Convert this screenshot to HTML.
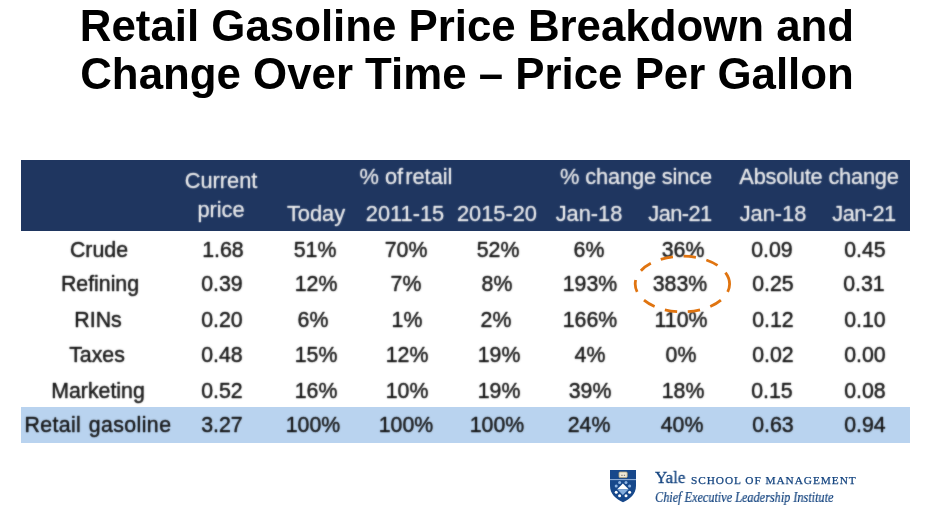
<!DOCTYPE html>
<html>
<head>
<meta charset="utf-8">
<title>Retail Gasoline Price Breakdown</title>
<style>
html,body{margin:0;padding:0;background:#fff;}
body{width:930px;height:523px;position:relative;overflow:hidden;font-family:"Liberation Sans",sans-serif;}
.title{position:absolute;left:0;top:0;width:930px;text-align:center;font-weight:bold;font-size:43.82px;line-height:47px;color:#000;white-space:nowrap;}
.title div{position:absolute;left:1.8px;width:930px;will-change:transform;}
.hdr{position:absolute;left:21px;top:159.7px;width:889px;height:71px;background:#1f3660;}
.hl{position:absolute;left:21px;top:406.7px;width:889px;height:36px;background:#b9d3ef;}
.t{position:absolute;width:200px;margin-left:-100px;text-align:center;font-size:21.3px;line-height:24px;height:24px;white-space:nowrap;will-change:transform;color:rgba(17,17,17,0.35);-webkit-text-stroke:0.45px rgba(17,17,17,0.35);text-shadow:0 0 1.7px #111;transform:scaleY(1.05);}
.h{font-size:21.8px;color:rgba(246,246,246,0.35);-webkit-text-stroke:0.3px rgba(246,246,246,0.3);text-shadow:0 0 1.7px #f0f0f0;}
.logo{position:absolute;will-change:transform;color:#13437f;font-family:"Liberation Serif",serif;white-space:nowrap;}
</style>
</head>
<body>
<div class="title"><div style="top:2px">Retail Gasoline Price Breakdown and</div><div style="top:49px;transform:translateY(0.6px)">Change Over Time – Price Per Gallon</div></div>
<div class="hdr"></div>
<div class="hl"></div>

<!-- header text -->
<div class="t h" style="left:221px;top:169px">Current</div>
<div class="t h" style="left:221px;top:197.6px">price</div>
<div class="t h" style="left:405.5px;top:165px">% of<span style="margin-left:-4px"> retail</span></div>
<div class="t h" style="left:635.6px;top:165px;letter-spacing:-0.14px">% change since</div>
<div class="t h" style="left:818.9px;top:165px;letter-spacing:-0.2px">Absolute change</div>
<div class="t h" style="left:315.5px;top:201.5px">Today</div>
<div class="t h" style="left:405px;top:201.5px">2011-15</div>
<div class="t h" style="left:496.8px;top:201.5px">2015-20</div>
<div class="t h" style="left:589px;top:201.5px">Jan-18</div>
<div class="t h" style="left:680px;top:201.5px;letter-spacing:-0.55px">Jan-21</div>
<div class="t h" style="left:772.7px;top:201.5px">Jan-18</div>
<div class="t h" style="left:863.5px;top:201.5px;letter-spacing:-0.55px">Jan-21</div>

<!-- rows -->
<div class="t" style="left:98.50px;top:237px;transform:translateY(0.40px) scaleY(1.05)">Crude</div>
<div class="t" style="left:222.50px;top:237px;transform:translateY(0.40px) scaleY(1.05)">1.68</div>
<div class="t" style="left:315.00px;top:237px;transform:translateY(0.40px) scaleY(1.05)">51%</div>
<div class="t" style="left:406.00px;top:237px;transform:translateY(0.40px) scaleY(1.05)">70%</div>
<div class="t" style="left:498.00px;top:237px;transform:translateY(0.40px) scaleY(1.05)">52%</div>
<div class="t" style="left:589.00px;top:237px;transform:translateY(0.40px) scaleY(1.05)">6%</div>
<div class="t" style="left:683.00px;top:237px;transform:translateY(0.40px) scaleY(1.05)">36%</div>
<div class="t" style="left:772.00px;top:237px;transform:translateY(0.40px) scaleY(1.05)">0.09</div>
<div class="t" style="left:864.50px;top:237px;transform:translateY(0.40px) scaleY(1.05)">0.45</div>
<div class="t" style="left:99.50px;top:271px;transform:translateY(0.40px) scaleY(1.05)">Refining</div>
<div class="t" style="left:222.00px;top:271px;transform:translateY(0.40px) scaleY(1.05)">0.39</div>
<div class="t" style="left:315.50px;top:271px;transform:translateY(0.40px) scaleY(1.05)">12%</div>
<div class="t" style="left:406.00px;top:271px;transform:translateY(0.40px) scaleY(1.05)">7%</div>
<div class="t" style="left:496.50px;top:271px;transform:translateY(0.40px) scaleY(1.05)">8%</div>
<div class="t" style="left:590.00px;top:271px;transform:translateY(0.40px) scaleY(1.05)">193%</div>
<div class="t" style="left:680.00px;top:271px;transform:translateY(0.40px) scaleY(1.05)">383%</div>
<div class="t" style="left:772.50px;top:271px;transform:translateY(0.40px) scaleY(1.05)">0.25</div>
<div class="t" style="left:863.50px;top:271px;transform:translateY(0.40px) scaleY(1.05)">0.31</div>
<div class="t" style="left:98.00px;top:307px;transform:translateY(0.57px) scaleY(1.05)">RINs</div>
<div class="t" style="left:221.50px;top:307px;transform:translateY(0.57px) scaleY(1.05)">0.20</div>
<div class="t" style="left:312.50px;top:307px;transform:translateY(0.57px) scaleY(1.05)">6%</div>
<div class="t" style="left:406.50px;top:307px;transform:translateY(0.57px) scaleY(1.05)">1%</div>
<div class="t" style="left:496.00px;top:307px;transform:translateY(0.57px) scaleY(1.05)">2%</div>
<div class="t" style="left:590.00px;top:307px;transform:translateY(0.57px) scaleY(1.05)">166%</div>
<div class="t" style="left:680.50px;top:307px;transform:translateY(0.57px) scaleY(1.05)">110%</div>
<div class="t" style="left:772.50px;top:307px;transform:translateY(0.57px) scaleY(1.05)">0.12</div>
<div class="t" style="left:864.50px;top:307px;transform:translateY(0.57px) scaleY(1.05)">0.10</div>
<div class="t" style="left:97.00px;top:343px;transform:translateY(0.00px) scaleY(1.05)">Taxes</div>
<div class="t" style="left:221.50px;top:343px;transform:translateY(0.00px) scaleY(1.05)">0.48</div>
<div class="t" style="left:315.50px;top:343px;transform:translateY(0.00px) scaleY(1.05)">15%</div>
<div class="t" style="left:406.50px;top:343px;transform:translateY(0.00px) scaleY(1.05)">12%</div>
<div class="t" style="left:498.50px;top:343px;transform:translateY(0.00px) scaleY(1.05)">19%</div>
<div class="t" style="left:590.00px;top:343px;transform:translateY(0.00px) scaleY(1.05)">4%</div>
<div class="t" style="left:681.00px;top:343px;transform:translateY(0.00px) scaleY(1.05)">0%</div>
<div class="t" style="left:772.50px;top:343px;transform:translateY(0.00px) scaleY(1.05)">0.02</div>
<div class="t" style="left:864.50px;top:343px;transform:translateY(0.00px) scaleY(1.05)">0.00</div>
<div class="t" style="left:97.50px;top:378px;transform:translateY(0.20px) scaleY(1.05)">Marketing</div>
<div class="t" style="left:221.50px;top:378px;transform:translateY(0.20px) scaleY(1.05)">0.52</div>
<div class="t" style="left:315.50px;top:378px;transform:translateY(0.20px) scaleY(1.05)">16%</div>
<div class="t" style="left:406.50px;top:378px;transform:translateY(0.20px) scaleY(1.05)">10%</div>
<div class="t" style="left:498.50px;top:378px;transform:translateY(0.20px) scaleY(1.05)">19%</div>
<div class="t" style="left:589.50px;top:378px;transform:translateY(0.20px) scaleY(1.05)">39%</div>
<div class="t" style="left:682.50px;top:378px;transform:translateY(0.20px) scaleY(1.05)">18%</div>
<div class="t" style="left:772.00px;top:378px;transform:translateY(0.20px) scaleY(1.05)">0.15</div>
<div class="t" style="left:864.50px;top:378px;transform:translateY(0.20px) scaleY(1.05)">0.08</div>
<div class="t" style="left:97.50px;top:412px;transform:translateY(0.25px) scaleY(1.05)"><span style="letter-spacing:0.35px">Retail</span><span style="letter-spacing:0.42px;margin-left:1.2px"> gasoline</span></div>
<div class="t" style="left:221.50px;top:412px;transform:translateY(0.25px) scaleY(1.05)">3.27</div>
<div class="t" style="left:313.00px;top:412px;transform:translateY(0.25px) scaleY(1.05)">100%</div>
<div class="t" style="left:406.00px;top:412px;transform:translateY(0.25px) scaleY(1.05)">100%</div>
<div class="t" style="left:497.00px;top:412px;transform:translateY(0.25px) scaleY(1.05)">100%</div>
<div class="t" style="left:589.00px;top:412px;transform:translateY(0.25px) scaleY(1.05)">24%</div>
<div class="t" style="left:682.00px;top:412px;transform:translateY(0.25px) scaleY(1.05)">40%</div>
<div class="t" style="left:772.50px;top:412px;transform:translateY(0.25px) scaleY(1.05)">0.63</div>
<div class="t" style="left:864.50px;top:412px;transform:translateY(0.25px) scaleY(1.05)">0.94</div>

<!-- logo -->
<svg style="position:absolute;left:606px;top:466px" width="36" height="42" viewBox="606 466 36 42">
<path d="M610 470 H636 V486 C636 494 630 499 623 502.3 C616 499 610 494 610 486 Z" fill="#17488b"/>
<rect x="610" y="479.2" width="26" height="0.9" fill="#a9c4e6"/>
<rect x="619" y="472" width="8.2" height="5.6" rx="1" fill="#efe9d8" stroke="#b8a77c" stroke-width="0.8"/>
<rect x="621.3" y="474.8" width="1.3" height="1.1" fill="#777"/><rect x="623.8" y="474.8" width="1.3" height="1.1" fill="#777"/>
<path d="M622.9 483.6 L628.6 489.2 H617.2 Z" fill="#ffffff"/>
<path d="M617.2 489.2 H628.6 L622.9 495 Z" fill="#86aedd"/>
<g fill="#8fb4e2"><circle cx="619.6" cy="482.5" r="1.5"/><circle cx="626" cy="482.5" r="1.5"/><circle cx="616.2" cy="485.9" r="1.5"/><circle cx="629.6" cy="485.9" r="1.5"/></g>
<g fill="#ffffff"><circle cx="616.2" cy="492.3" r="1.5"/><circle cx="629.6" cy="492.3" r="1.5"/><circle cx="619.6" cy="495.7" r="1.5"/><circle cx="626" cy="495.7" r="1.5"/></g>
</svg>
<div class="logo" id="yale" style="left:655px;top:467.8px;font-size:17.3px;line-height:20px;transform-origin:0 0;transform:scaleX(0.98);-webkit-text-stroke:0.3px #13437f">Yale</div>
<div class="logo" id="som" style="left:690.5px;top:472.9px;font-size:11.3px;line-height:14px;letter-spacing:0.96px;-webkit-text-stroke:0.25px #13437f">SCHOOL OF MANAGEMENT</div>
<div class="logo" id="celi" style="left:655px;top:489.7px;font-size:13.7px;line-height:16px;font-style:italic;transform-origin:0 0;transform:scaleX(0.894);-webkit-text-stroke:0.2px #13437f">Chief Executive Leadership Institute</div>

<svg style="position:absolute;left:0;top:0" width="930" height="523" viewBox="0 0 930 523">
<path d="M729.6 284 A47.2 27.8 0 1 0 635.2 284 A47.2 27.8 0 1 0 729.6 284" fill="none" stroke="#e07410" stroke-width="2.8" stroke-dasharray="12.4 10.7"/>
</svg>
</body>
</html>
